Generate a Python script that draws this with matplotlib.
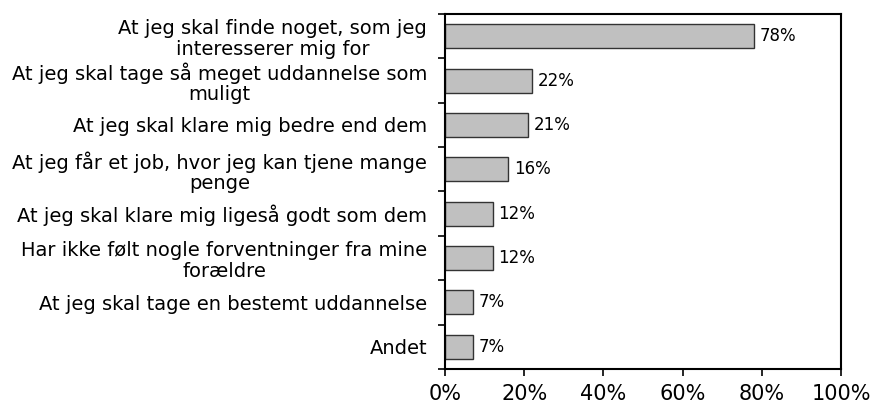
import numpy as np
import matplotlib.pyplot as plt
from matplotlib.ticker import FixedLocator, NullFormatter

labels = [
    'At jeg skal finde noget, som jeg\ninteresserer mig for',
    'At jeg skal tage så meget uddannelse som\nmuligt',
    'At jeg skal klare mig bedre end dem',
    'At jeg får et job, hvor jeg kan tjene mange\npenge',
    'At jeg skal klare mig ligeså godt som dem',
    'Har ikke følt nogle forventninger fra mine\nforældre',
    'At jeg skal tage en bestemt uddannelse',
    'Andet',
]
values = [78, 22, 21, 16, 12, 12, 7, 7]
xticks = [0, 20, 40, 60, 80, 100]

fig = plt.figure(figsize=(8.71, 4.08), dpi=100)
ax = fig.add_axes([0.511, 0.0956, 0.4545, 0.8701])

y = np.arange(len(values))
ax.barh(y, values, height=0.54, color='#c0c0c0', edgecolor='#333333', linewidth=1)
for yi, v in zip(y, values):
    ax.annotate(f'{v}%', (v, yi), xytext=(4, 0), textcoords='offset points',
                va='center', ha='left', fontsize=12)

ax.set_xlim(0, 100)
ax.set_ylim(len(values) - 0.5, -0.5)
ax.set_xticks(xticks)
ax.set_xticklabels([f'{t}%' for t in xticks], fontsize=15)
ax.tick_params(axis='x', direction='out', length=5, width=1.2, pad=6)

ax.set_yticks(y)
ax.set_yticklabels(labels, fontsize=14, multialignment='center', linespacing=1.1)
ax.tick_params(axis='y', which='major', length=0, pad=13)
ax.yaxis.set_minor_locator(FixedLocator(np.arange(-0.5, len(values), 1)))
ax.yaxis.set_minor_formatter(NullFormatter())
ax.tick_params(axis='y', which='minor', direction='out', length=5, width=1.2)

for s in ax.spines.values():
    s.set_linewidth(1.5)

fig.savefig('out.png', dpi=100)
